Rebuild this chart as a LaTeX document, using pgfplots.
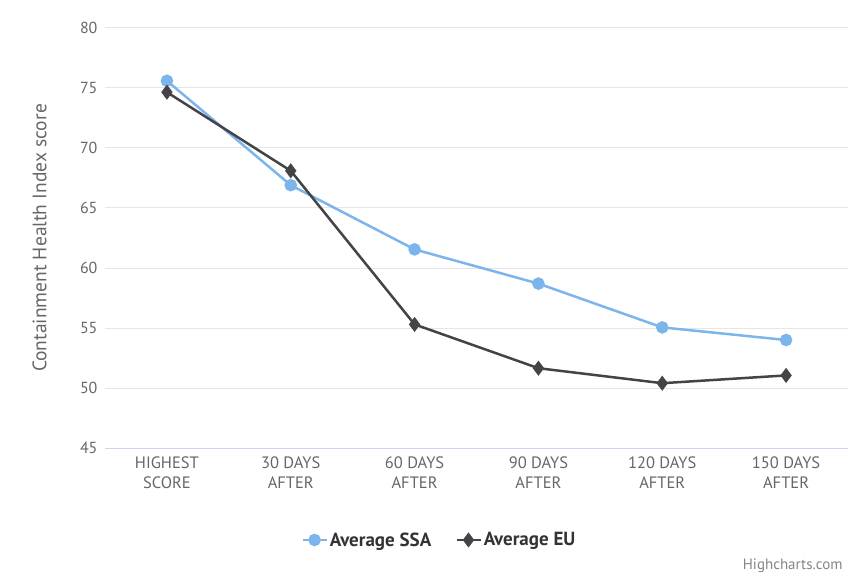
\documentclass[border=0pt]{standalone}
\usepackage{pgfplots}
\pgfplotsset{compat=1.18}
\usepackage{fontspec}
\setmainfont{PT Sans}
\definecolor{ssa}{HTML}{7CB5EC}
\definecolor{eu}{HTML}{434348}
\definecolor{gridc}{HTML}{E6E6E6}
\definecolor{lbl}{HTML}{666666}
\definecolor{axl}{HTML}{CCD6EB}
\definecolor{legt}{HTML}{333333}
\begin{document}
\begin{tikzpicture}[x=1pt,y=1pt]
\path[use as bounding box] (0,0) rectangle (848,576);
\begin{axis}[
  at={(105pt,128pt)}, anchor=south west,
  scale only axis, width=743pt, height=420pt,
  xmin=-0.5, xmax=5.5, ymin=45, ymax=80,
  xtick={0,1,2,3,4,5},
  xticklabels={HIGHEST\\SCORE, 30 DAYS\\AFTER, 60 DAYS\\AFTER, 90 DAYS\\AFTER, 120 DAYS\\AFTER, 150 DAYS\\AFTER},
  xticklabel style={align=center, font=\fontsize{16.5}{20}\selectfont, text=lbl, yshift=-5pt},
  ytick={45,50,...,80},
  yticklabel style={font=\fontsize{16}{18}\selectfont, text=lbl, xshift=-4pt},
  /pgf/number format/assume math mode=true,
  major tick length=0pt,
  ymajorgrids, grid style={gridc, line width=1pt},
  axis lines*=left,
  x axis line style={axl, line width=1pt, -},
  y axis line style={draw=none, -},
  every axis y label/.style={at={(axis description cs:-0.088,0.5)}, anchor=center, rotate=90},
  ylabel={Containment Health Index score},
  ylabel style={font=\fontsize{19.5}{22}\selectfont, text=lbl},
  clip=false,
  legend image code/.code={\draw[mark repeat=2,mark phase=2] plot coordinates {(0pt,0pt) (12pt,0pt) (24pt,0pt)};},
  legend style={at={(0.450,-0.219)}, anchor=center, draw=none, fill=none,
    legend columns=2, font=\bfseries\fontsize{19}{22}\selectfont, text=legt,
    /tikz/every even column/.append style={column sep=22pt}},
  legend cell align=left,
]
\addplot[ssa, line width=2.5pt, mark=*, mark size=5pt, mark options={fill=ssa, draw=ssa}] coordinates {
  (0,75.6) (1,66.9) (2,61.55) (3,58.7) (4,55.05) (5,54.0)
};
\addlegendentry{Average SSA}
\addplot[eu, line width=2.5pt, mark=diamond*, mark size=5.5pt, mark options={fill=eu, draw=eu}] coordinates {
  (0,74.65) (1,68.1) (2,55.3) (3,51.65) (4,50.4) (5,51.05)
};
\addlegendentry{Average EU}
\end{axis}
\node[anchor=south east, font=\fontsize{15}{17}\selectfont, text=lbl!80] at (846,0) {Highcharts.com};
\end{tikzpicture}
\end{document}
